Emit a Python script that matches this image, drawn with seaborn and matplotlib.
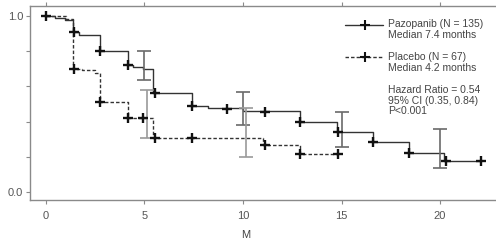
import numpy as np
import pandas as pd
import matplotlib
matplotlib.use("Agg")
import matplotlib.pyplot as plt
from matplotlib.lines import Line2D
import seaborn as sns

# ---------------- data ----------------
paz_t = [0, 0.45, 0.95, 1.35, 1.7, 2.75, 4.15, 4.4, 4.9, 5.45, 7.4, 8.2, 10.0, 12.9, 14.75, 16.6, 18.4, 20.2, 22.1]
paz_s = [1.00, 0.99, 0.98, 0.91, 0.89, 0.80, 0.72, 0.71, 0.70, 0.56, 0.49, 0.475, 0.46, 0.40, 0.34, 0.285, 0.22, 0.175, 0.175]
pla_t = [0, 1.0, 1.35, 1.85, 2.5, 2.75, 4.15, 5.45, 11.0, 12.9, 14.8]
pla_s = [1.00, 0.985, 0.70, 0.695, 0.675, 0.51, 0.42, 0.31, 0.265, 0.215, 0.215]

paz_mark_t = [0, 1.4, 2.75, 4.15, 5.55, 7.4, 9.2, 11.1, 12.9, 14.8, 16.6, 18.4, 20.3, 22.1]
paz_mark_s = [1.00, 0.91, 0.80, 0.72, 0.56, 0.49, 0.47, 0.455, 0.40, 0.34, 0.285, 0.22, 0.175, 0.175]
pla_mark_t = [1.4, 2.75, 4.15, 4.9, 5.55, 7.4, 11.1, 12.9, 14.8]
pla_mark_s = [0.70, 0.51, 0.42, 0.42, 0.31, 0.31, 0.265, 0.215, 0.215]

paz_ci_t = [5.0, 10.0, 15.0, 20.0]
paz_ci_lo = [0.635, 0.38, 0.255, 0.135]
paz_ci_hi = [0.80, 0.57, 0.455, 0.36]
pla_ci_t = [5.15, 10.15]
pla_ci_lo = [0.31, 0.20]
pla_ci_hi = [0.58, 0.48]

x_ticks = [0, 5, 10, 15, 20]
y_ticks = [0.0, 0.2, 0.4, 0.6, 0.8, 1.0]
y_ticklabels = ["0.0", "", "", "", "", "1.0"]
legend_lines = [["Pazopanib (N = 135)", "Median 7.4 months"],
                ["Placebo (N = 67)", "Median 4.2 months"],
                ["Hazard Ratio = 0.54", "95% CI (0.35, 0.84)", "P<0.001"]]
x_label = "M"

# ---------------- figure ----------------
sns.set_style("white")
plt.rcParams["font.family"] = ["Liberation Sans Narrow", "Liberation Sans", "DejaVu Sans"]

W, H = 496, 248
fig = plt.figure(figsize=(W / 100, H / 100), dpi=100)

def fx(px):
    return px / W

def fy(py):
    return 1 - py / H

ax = fig.add_axes([fx(30), fy(200), fx(496) - fx(30), fy(6) - fy(200)])

df_paz = pd.DataFrame({"t": paz_t, "s": paz_s})
df_pla = pd.DataFrame({"t": pla_t, "s": pla_s})
line_col = "#333333"
sns.lineplot(data=df_paz, x="t", y="s", ax=ax, drawstyle="steps-post",
             estimator=None, color=line_col, lw=1.0, sort=False)
sns.lineplot(data=df_pla, x="t", y="s", ax=ax, drawstyle="steps-post",
             estimator=None, color=line_col, lw=1.0, sort=False, linestyle=(0, (2.5, 1.5)))

def ci(ax, t, lo, hi, col):
    mid = [(a + b) / 2 for a, b in zip(lo, hi)]
    err = [[m - a for m, a in zip(mid, lo)], [b - m for m, b in zip(mid, hi)]]
    ax.errorbar(t, mid, yerr=err, fmt="none", ecolor=col, elinewidth=1.2,
                capsize=5, capthick=1.2, zorder=2)

ci(ax, paz_ci_t, paz_ci_lo, paz_ci_hi, "#6a6a6a")
ci(ax, pla_ci_t, pla_ci_lo, pla_ci_hi, "#9a9a9a")

# censor marks
sns.scatterplot(x=paz_mark_t, y=paz_mark_s, ax=ax, marker="+", s=60, color="#111111",
                linewidth=1.7, zorder=5)
sns.scatterplot(x=pla_mark_t, y=pla_mark_s, ax=ax, marker="+", s=60, color="#111111",
                linewidth=1.7, zorder=5)

ax.set_xlim(-0.81, 22.84)
ax.set_ylim(-0.045, 1.057)
ax.set_xticks(x_ticks)
ax.set_xticklabels([str(v) for v in x_ticks])
ax.set_yticks(y_ticks)
ax.set_yticklabels(y_ticklabels)
ax.set_xlabel("")
ax.set_ylabel("")

spine_col = "#8a8a8a"
for side in ["left", "bottom", "top"]:
    ax.spines[side].set_color(spine_col)
    ax.spines[side].set_linewidth(1.0)
ax.spines["right"].set_visible(False)
ax.tick_params(axis="both", which="both", colors=spine_col, labelcolor="#555555",
               labelsize=8, length=3, width=0.8, direction="out", pad=2)
ax.tick_params(axis="x", top=True, bottom=True, pad=5)
ax.tick_params(axis="y", left=True)

fig.text(fx(246), fy(235), x_label, ha="center", va="center", fontsize=8, color="#444444")

# legend drawn manually
txt_col = "#444444"
fig.add_artist(Line2D([fx(345), fx(383)], [fy(25), fy(25)], color=line_col, lw=1.0))
fig.add_artist(Line2D([fx(365)], [fy(25)], marker="+", ms=7, mew=1.5, color="#111111"))
fig.add_artist(Line2D([fx(345), fx(383)], [fy(57), fy(57)], color=line_col, lw=1.0,
                      linestyle=(0, (2.5, 1.5))))
fig.add_artist(Line2D([fx(365)], [fy(57)], marker="+", ms=7, mew=1.5, color="#111111"))

ys = [[24, 35.5], [57, 68], [90, 100.5, 111]]
for grp, yy in zip(legend_lines, ys):
    for s, y in zip(grp, yy):
        fig.text(fx(388), fy(y), s, ha="left", va="center", fontsize=7.5, color=txt_col)

fig.savefig("out.png", dpi=100)
